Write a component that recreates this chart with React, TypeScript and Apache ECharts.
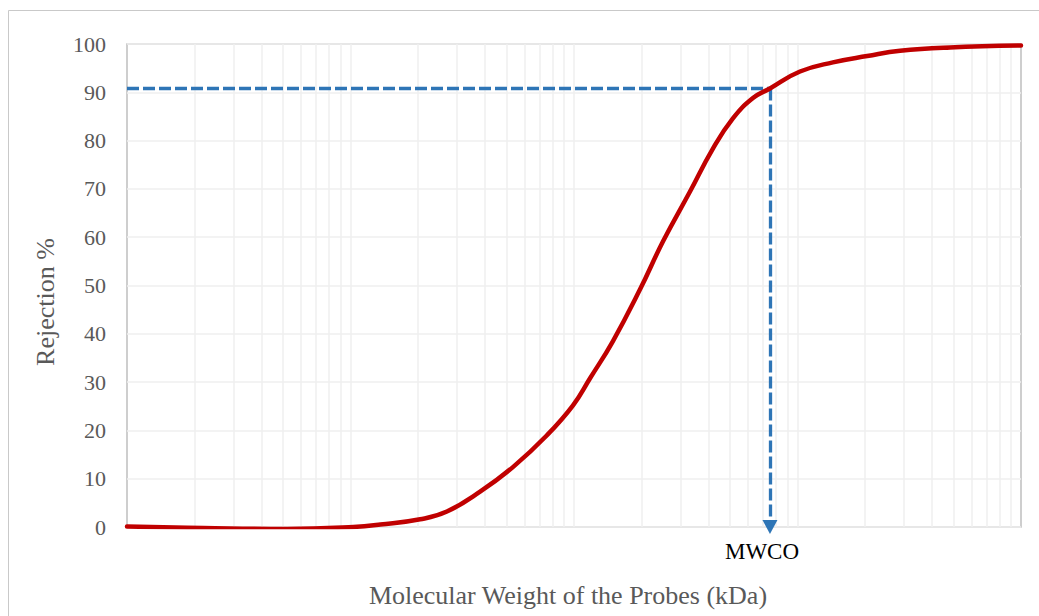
import React, { useEffect, useRef } from "react";
import * as echarts from "echarts";

// Molecular weight of the probes (kDa), log scale
const molecularWeight = [
  0.1, 0.22, 0.52, 1.03, 1.36, 2.05, 2.7, 3.8, 5.33, 7.57, 9.9, 11.8, 14.9,
  19.7, 25, 33, 41.9, 51.4, 63.2, 75.3, 102.6, 144, 205, 288, 481, 1000,
];
// Rejection %
const rejection = [
  0.1, -0.2, -0.4, 0, 0.5, 1.6, 3.2, 7.3, 12.4, 19.0, 25.2, 30.8, 38.4, 49.1,
  59.1, 69.4, 78.4, 84.6, 88.8, 90.8, 94.3, 96.2, 97.5, 98.6, 99.3, 99.7,
];
// Molecular weight cut-off marker
const mwcoWeight = 75.3;
const mwcoRejection = 90.8;
const mwcoLabel = "MWCO";

// Log grid: decades and the multipliers inside each decade
const decades = [0.1, 1, 10, 100];
const multipliers = [1, 2, 3, 4, 5, 6, 7, 8, 9];

const xTitle = "Molecular Weight of the Probes (kDa)";
const yTitle = "Rejection %";

const FONT = '"Liberation Serif", "Times New Roman", serif';

export default function App() {
  const ref = useRef<HTMLDivElement>(null);

  useEffect(() => {
    if (!ref.current) return;
    const chart = echarts.init(ref.current, undefined, { renderer: "svg" });

    const xGridValues: number[] = [];
    decades.forEach((d) =>
      multipliers.forEach((m) => {
        const v = +(d * m).toPrecision(6);
        if (v > decades[0]) xGridValues.push(v);
      })
    );

    chart.setOption({
      animation: false,
      backgroundColor: "#ffffff",
      grid: {
        left: 127,
        top: 44,
        right: 18,
        bottom: 89,
        show: true,
        borderColor: "#BFBFBF",
        borderWidth: 1.5,
        backgroundColor: "transparent",
      },
      xAxis: {
        type: "log",
        logBase: 10,
        min: 0.1,
        max: 1000,
        axisLabel: { show: false },
        axisTick: { show: false },
        axisLine: { show: false },
        splitLine: { show: false },
      },
      yAxis: {
        type: "value",
        min: 0,
        max: 100,
        interval: 10,
        axisLine: { show: false },
        axisTick: { show: false },
        axisLabel: {
          fontSize: 22,
          color: "#595959",
          fontFamily: FONT,
          margin: 21,
        },
        splitLine: { lineStyle: { color: "#EFEFEF", width: 1.5 } },
      },
      graphic: [
        {
          type: "rect",
          silent: true,
          z: -10,
          shape: { x: 8.5, y: 10.5, width: 1100, height: 700 },
          style: { fill: "none", stroke: "#C9C9C9", lineWidth: 1 },
        },
        {
          type: "text",
          x: 568,
          y: 595,
          style: {
            text: xTitle,
            fontSize: 26,
            fontFamily: FONT,
            fill: "#595959",
            align: "center",
            verticalAlign: "middle",
          },
        },
        {
          type: "text",
          x: 45,
          y: 302,
          rotation: Math.PI / 2,
          style: {
            text: yTitle,
            fontSize: 26,
            fontFamily: FONT,
            fill: "#595959",
            align: "center",
            verticalAlign: "middle",
          },
        },
        {
          type: "text",
          x: 762,
          y: 551,
          style: {
            text: mwcoLabel,
            fontSize: 23,
            fontFamily: FONT,
            fill: "#000000",
            align: "center",
            verticalAlign: "middle",
          },
        },
      ],
      series: [
        {
          name: "grid",
          type: "line",
          data: [],
          z: 1,
          silent: true,
          markLine: {
            z: 1,
            silent: true,
            symbol: ["none", "none"],
            label: { show: false },
            lineStyle: { color: "#EFEFEF", width: 1.5, type: "solid" },
            data: xGridValues.map((v) => ({ xAxis: v })),
          },
        },
        {
          name: "mwco",
          type: "line",
          data: [],
          z: 2,
          silent: true,
          markLine: {
            z: 2,
            silent: true,
            symbol: ["none", "none"],
            label: { show: false },
            lineStyle: { color: "#2E75B6", width: 3.3, type: [12, 4] },
            data: [
              [
                { coord: [decades[0], mwcoRejection], symbol: "none" },
                { coord: [mwcoWeight, mwcoRejection], symbol: "none" },
              ],
              [
                { coord: [mwcoWeight, mwcoRejection], symbol: "none" },
                {
                  coord: [mwcoWeight, 0],
                  symbol: "triangle",
                  symbolSize: [15, 14],
                },
              ],
            ],
          },
        },
        {
          name: "Rejection",
          type: "line",
          z: 3,
          data: molecularWeight.map((x, i) => [x, rejection[i]]),
          smooth: 0.45,
          showSymbol: false,
          symbol: "none",
          lineStyle: {
            color: "#C00000",
            width: 4.5,
            cap: "round",
            join: "round",
          },
        },
      ],
    });

    return () => chart.dispose();
  }, []);

  return (
    <div
      ref={ref}
      style={{
        position: "absolute",
        left: 0,
        top: 0,
        width: 1039,
        height: 616,
        background: "#ffffff",
      }}
    />
  );
}
